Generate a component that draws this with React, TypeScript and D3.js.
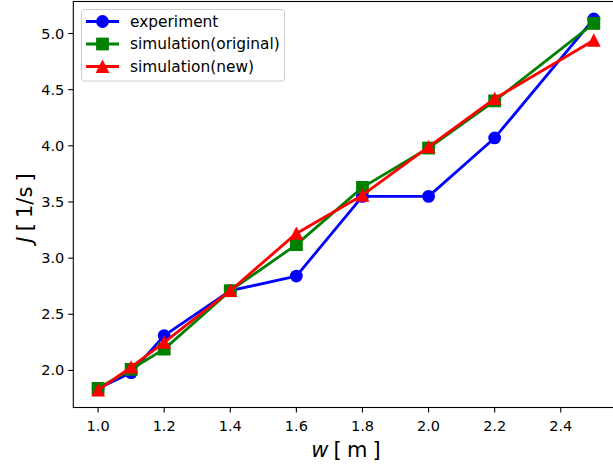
import React from "react";
import * as d3 from "d3";

const xValues = [1.0, 1.1, 1.2, 1.4, 1.6, 1.8, 2.0, 2.2, 2.5];
const experiment = [1.84, 1.98, 2.31, 2.71, 2.84, 3.55, 3.55, 4.07, 5.13];
const simOriginal = [1.84, 2.01, 2.19, 2.71, 3.12, 3.63, 3.98, 4.4, 5.09];
const simNew = [1.825, 2.03, 2.25, 2.71, 3.22, 3.56, 3.99, 4.42, 4.94];
const xTicks = [1.0, 1.2, 1.4, 1.6, 1.8, 2.0, 2.2, 2.4];
const yTicks = [2.0, 2.5, 3.0, 3.5, 4.0, 4.5, 5.0];
const seriesNames = ["experiment", "simulation(original)", "simulation(new)"];
const seriesColors = ["#0000ff", "#008000", "#ff0000"];
const seriesMarkers = ["circle", "square", "triangle"];

const W = 613;
const H = 464;
const FONT = "DejaVu Sans, sans-serif";

function Marker({ kind, x, y, color }: { kind: string; x: number; y: number; color: string }) {
  const s = 6.4;
  if (kind === "circle") return <circle cx={x} cy={y} r={s} fill={color} />;
  if (kind === "square")
    return <rect x={x - s} y={y - s} width={2 * s} height={2 * s} fill={color} />;
  const p = `M${x},${y - s - 0.5} L${x + s + 0.5},${y + s} L${x - s - 0.5},${y + s} Z`;
  return <path d={p} fill={color} />;
}

export default function App() {
  const x = d3.scaleLinear().domain([0.925, 2.575]).range([73.3, 618.6]);
  const y = d3.scaleLinear().domain([1.67, 5.285]).range([407.5, 1.5]);
  const left = 73.3, right = 618.6, top = 1.5, bottom = 407.5;
  const series = [experiment, simOriginal, simNew];
  const line = d3
    .line<number>()
    .x((_, i) => x(xValues[i]))
    .y((d) => y(d));

  return (
    <svg
      width={W}
      height={H}
      style={{ position: "absolute", left: 0, top: 0, background: "#fff" }}
      fontFamily={FONT}
    >
      <rect x={0} y={0} width={W} height={H} fill="#fff" />
      {series.map((s, si) => (
        <g key={si}>
          <path d={line(s) || ""} fill="none" stroke={seriesColors[si]} strokeWidth={2.8} strokeLinejoin="round" />
          {s.map((v, i) => (
            <Marker key={i} kind={seriesMarkers[si]} x={x(xValues[i])} y={y(v)} color={seriesColors[si]} />
          ))}
        </g>
      ))}
      <rect x={left} y={top} width={right - left} height={bottom - top} fill="none" stroke="#000" strokeWidth={1.1} />
      {xTicks.map((t) => (
        <g key={t}>
          <line x1={x(t)} x2={x(t)} y1={bottom} y2={bottom + 5} stroke="#000" strokeWidth={1.1} />
          <text x={x(t)} y={bottom + 23} textAnchor="middle" fontSize={14.5} fill="#000">
            {t.toFixed(1)}
          </text>
        </g>
      ))}
      {yTicks.map((t) => (
        <g key={t}>
          <line x1={left - 5} x2={left} y1={y(t)} y2={y(t)} stroke="#000" strokeWidth={1.1} />
          <text x={left - 9} y={y(t) + 5} textAnchor="end" fontSize={14.5} fill="#000">
            {t.toFixed(1)}
          </text>
        </g>
      ))}
      <text x={346} y={456.5} textAnchor="middle" fontSize={21} fill="#000" style={{ wordSpacing: "-1.5px", whiteSpace: "pre" }}>
        <tspan fontStyle="italic">w</tspan>
        <tspan> [ m ]</tspan>
      </text>
      <text
        transform={`translate(31.5,208) rotate(-90)`}
        textAnchor="middle"
        fontSize={21}
        fill="#000"
        style={{ wordSpacing: "-1.5px", whiteSpace: "pre" }}
      >
        <tspan fontStyle="italic">J</tspan>
        <tspan> [ 1/s ]</tspan>
      </text>
      <g>
        <rect x={81.5} y={9.5} width={203} height={71.5} rx={3} fill="#fff" fillOpacity={0.8} stroke="#cccccc" strokeWidth={1} />
        {seriesNames.map((n, i) => {
          const cy = 21.5 + i * 22.5;
          return (
            <g key={n}>
              <line x1={86} x2={119} y1={cy} y2={cy} stroke={seriesColors[i]} strokeWidth={2.8} />
              <Marker kind={seriesMarkers[i]} x={102.5} y={cy} color={seriesColors[i]} />
              <text x={130} y={cy + 5.4} fontSize={15.4} fill="#000">
                {n}
              </text>
            </g>
          );
        })}
      </g>
    </svg>
  );
}
